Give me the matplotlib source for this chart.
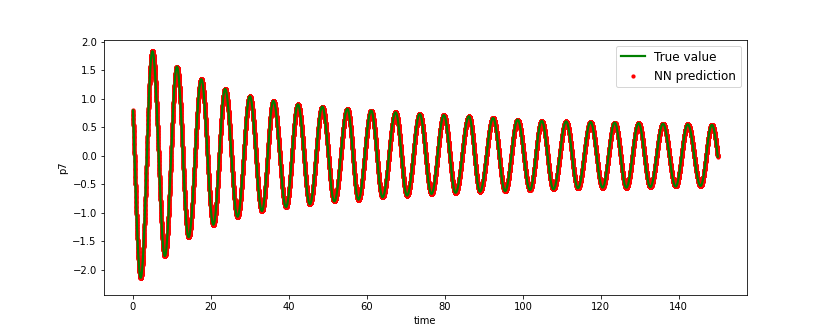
import numpy as np
import matplotlib
matplotlib.use("Agg")
import matplotlib.pyplot as plt

# Extrema of the oscillation (time, value),
# alternating peak / trough; first and last lie just outside the window.
ext_time = [-1.1, 1.98, 4.98, 8.17, 11.27, 14.26, 17.53, 20.62, 23.64, 26.81,
            29.98, 33.07, 36.01, 39.26, 42.3, 45.37, 48.55, 51.64, 54.99, 57.83,
            61.1, 64.01, 67.36, 70.3, 73.55, 76.57, 79.74, 82.75, 86.18, 89.02,
            92.37, 95.46, 98.66, 101.83, 104.85, 107.84, 111.11, 114.13, 117.38,
            120.45, 123.56, 126.55, 129.7, 132.7, 135.95, 139.2, 142.3, 145.6,
            148.5, 151.4]
ext_value = [1.95, -2.14, 1.83, -1.76, 1.56, -1.43, 1.34, -1.21, 1.17, -1.07,
             1.04, -0.97, 0.96, -0.90, 0.90, -0.85, 0.86, -0.80, 0.82, -0.77,
             0.79, -0.73, 0.76, -0.70, 0.73, -0.67, 0.71, -0.65, 0.69, -0.63,
             0.66, -0.62, 0.63, -0.60, 0.61, -0.59, 0.60, -0.57, 0.59,
             -0.56, 0.58, -0.56, 0.57, -0.55, 0.56, -0.54, 0.55, -0.53,
             0.54, -0.52]
t_range = [0.0, 150.0]
series_labels = ["True value", "NN prediction"]
x_label = "time"
y_label = "p7"

tk = np.array(ext_time)
vk = np.array(ext_value)


def curve(t):
    idx = np.clip(np.searchsorted(tk, t, side="right") - 1, 0, len(tk) - 2)
    s = (t - tk[idx]) / (tk[idx + 1] - tk[idx])
    return vk[idx] + (vk[idx + 1] - vk[idx]) * (1 - np.cos(np.pi * s)) / 2


t = np.linspace(t_range[0], t_range[1], 20001)
y = curve(t)

fig, ax = plt.subplots(figsize=(830 / 72, 332 / 72), dpi=72)
pred = ax.scatter(t, y, s=18, color="red", linewidths=0,
                  label=series_labels[1], zorder=2)
true, = ax.plot(t, y, color="green", lw=2.2, label=series_labels[0], zorder=3)
ax.set_ylim(-2.45, 2.03)
ax.set_xlabel(x_label)
ax.set_ylabel(y_label)
ax.legend(handles=[true, pred], loc="upper right", fontsize=12)
fig.savefig("out.png", dpi=72)
